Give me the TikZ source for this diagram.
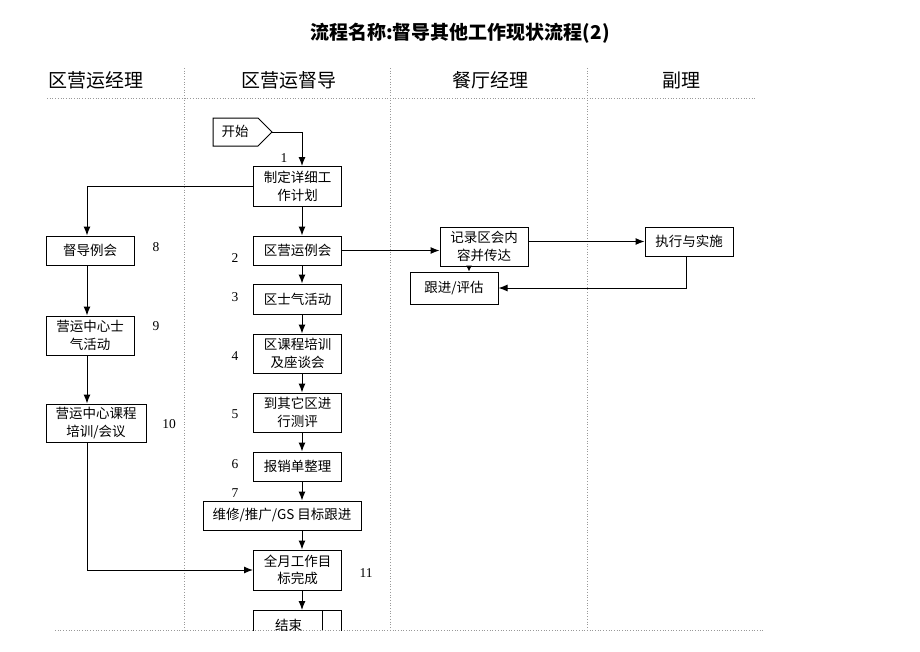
\documentclass[tikz,border=0pt]{standalone}
\usepackage{fontspec}
\setmainfont{Liberation Serif}
\newfontfamily\cjk{Noto Sans CJK SC}
\usetikzlibrary{arrows.meta}
\begin{document}
\begin{tikzpicture}[x=1pt,y=-1pt,
  box/.style={draw,line width=1pt,inner sep=0pt,align=center,minimum width=88pt,
    font=\cjk\fontsize{13.5}{17.5}\selectfont},
  num/.style={font=\fontsize{13.5}{14}\selectfont,inner sep=0pt},
  hdr/.style={font=\cjk\fontsize{19}{21}\selectfont,inner sep=0pt},
  sep/.style={draw=gray!80,line width=0.7pt,dotted},
  arr/.style={line width=1pt,-{Latex[length=9pt,width=7pt]}},
  ln/.style={line width=1pt}]
\useasboundingbox (0,0) rectangle (920,651);
% title
\node[font=\cjk\bfseries\fontsize{19}{21}\selectfont,inner sep=0pt] (title) at (460,33) {流程名称:督导其他工作现状流程(2)};
% headers
\node[hdr] (h1) at (96,80) {区营运经理};
\node[hdr] (h2) at (289,80) {区营运督导};
\node[hdr] (h3) at (490,80) {餐厅经理};
\node[hdr] (h4) at (681,80) {副理};
% lanes
\draw[sep] (47,98) -- (755,98);
\draw[sep] (55,630) -- (765,630);
\draw[sep] (184,68) -- (184,630);
\draw[sep] (390,68) -- (390,630);
\draw[sep] (587,68) -- (587,630);
% start
\draw[ln] (213,118) -- (258,118) -- (272,132) -- (258,146) -- (213,146) -- cycle;
\node[font=\cjk\fontsize{13.5}{16}\selectfont,inner sep=0pt] (start) at (235,131) {开始};
\coordinate (stip) at (272,132);
\coordinate (c302) at (302,0);
% boxes center column
\node[box,minimum height=40pt] (b1) at (297.5,186.5) {制定详细工\\作计划};
\node[box,minimum height=29pt] (b2) at (297.5,250.5) {区营运例会};
\node[box,minimum height=30pt] (b3) at (297.5,299) {区士气活动};
\node[box,minimum height=39pt] (b4) at (297.5,353.5) {区课程培训\\及座谈会};
\node[box,minimum height=39pt] (b5) at (297.5,412.5) {到其它区进\\行测评};
\node[box,minimum height=29pt] (b6) at (297.5,466.5) {报销单整理};
\node[box,minimum height=29pt,minimum width=158pt] (b7) at (282,515.5) {维修/推广/GS 目标跟进};
\node[box,minimum height=40pt] (b11) at (297.5,570) {全月工作目\\标完成};
% end box (clipped at bottom line)
\begin{scope}
\clip (240,600) rectangle (360,630);
\node[box,minimum height=30pt,anchor=north] (bend) at (297.5,610) {\raisebox{-3pt}{结束}\hspace{18pt}};
\end{scope}
\draw[ln] (322,610) -- (322,630);
% left column
\node[box,minimum height=29pt] (b8) at (90,250.5) {督导例会};
\node[box,minimum height=39pt] (b9) at (90,335.5) {营运中心士\\气活动};
\node[box,minimum height=38pt,minimum width=100pt] (b10) at (96,423) {营运中心课程\\培训/会议};
% right side
\node[box,minimum height=39pt] (r1) at (484,246.5) {记录区会内\\容并传达};
\node[box,minimum height=29pt] (v1) at (689,241.5) {执行与实施};
\node[box,minimum height=32pt] (g1) at (454,288) {跟进/评估};
% numbers
\node[num] (n1) at (284,158) {1};
\node[num] (n2) at (235,258) {2};
\node[num] (n3) at (235,297) {3};
\node[num] (n4) at (235,356) {4};
\node[num] (n5) at (235,414) {5};
\node[num] (n6) at (235,464) {6};
\node[num] (n7) at (235,493) {7};
\node[num] (n8) at (156,247) {8};
\node[num] (n9) at (156,326) {9};
\node[num] (n10) at (169,424) {10};
\node[num] (n11) at (366,573) {11};
% connectors
\draw[arr] (stip) -| (b1.north -| c302);
\draw[arr] (b1.south -| c302) -- (b2.north -| c302);
\draw[arr] (b2.south -| c302) -- (b3.north -| c302);
\draw[arr] (b3.south -| c302) -- (b4.north -| c302);
\draw[arr] (b4.south -| c302) -- (b5.north -| c302);
\draw[arr] (b5.south -| c302) -- (b6.north -| c302);
\draw[arr] (b6.south -| c302) -- (b7.north -| c302);
\draw[arr] (b7.south -| c302) -- (b11.north -| c302);
\draw[arr] (b11.south -| c302) -- (bend.north -| c302);
\coordinate (c87) at (87,0);
\draw[arr] (b1.west) -| (b8.north -| c87);
\draw[arr] (b8.south -| c87) -- (b9.north -| c87);
\draw[arr] (b9.south -| c87) -- (b10.north -| c87);
\draw[arr] (b10.south -| c87) |- (b11.west);
\draw[arr] (b2.east) -- (r1.west |- b2.east);
\draw[arr] (r1.east |- v1.west) -- (v1.west);
\coordinate (c469) at (469,0);
\draw[arr,-{Latex[length=6pt,width=6pt]}] (r1.south -| c469) -- (g1.north -| c469);
\coordinate (c686) at (686,0);
\draw[arr] (v1.south -| c686) |- (g1.east);
\end{tikzpicture}
\end{document}
